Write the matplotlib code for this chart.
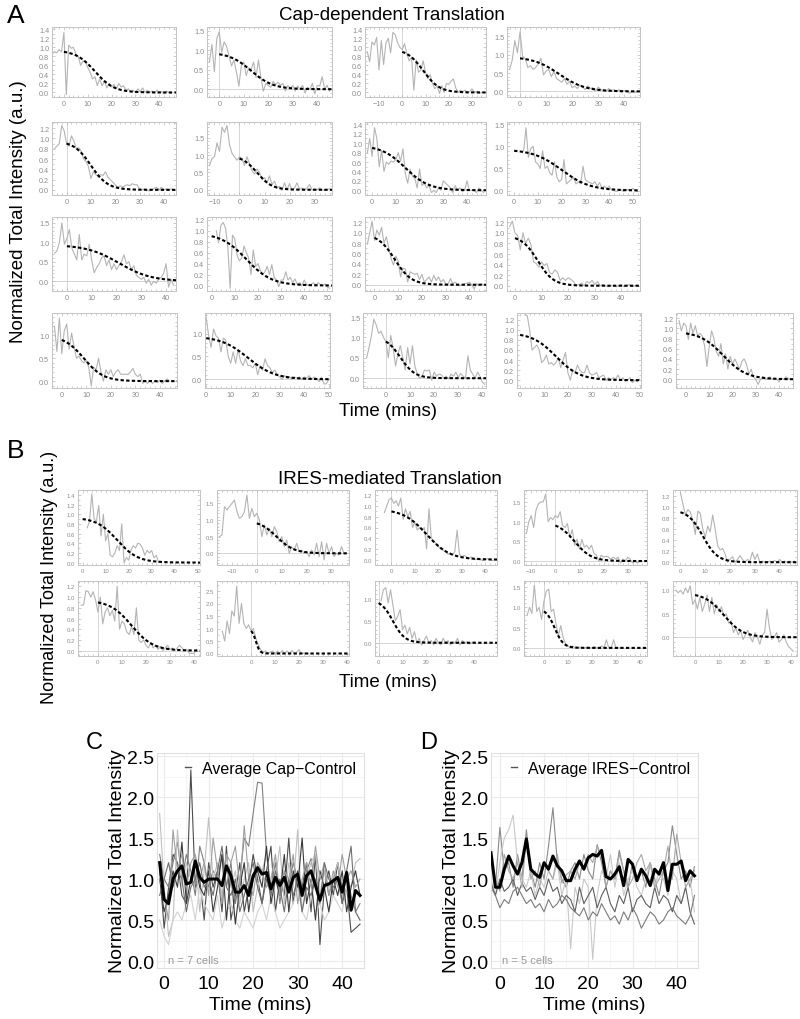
import numpy as np
import matplotlib
matplotlib.use("Agg")
import matplotlib.pyplot as plt
from matplotlib.lines import Line2D
from matplotlib.ticker import AutoMinorLocator, MultipleLocator

plt.rcParams['font.family'] = ['Liberation Sans', 'DejaVu Sans']

# ---------------- A: cap-dependent translation (one frame per minute) ----------------
# each cell: first time point, normalized intensity trace, fit (t50, width, start)
a11_t0 = -5
a11 = [0.85, 0.9, 0.88, 0.95, 0.9, 1.33, -0.05, 1.05, 0.98, 1.0,
       0.85, 0.8, 0.6, 0.7, 0.68, 0.55, 0.45, 0.3, 0.35, 0.15,
       0.3, 0.15, 0.25, 0.1, 0.2, 0.12, 0.18, 0.08, 0.2, 0.12,
       0.15, 0.05, 0.08, 0.02, 0.05, 0.0, 0.08, 0.02, 0.1, 0.0,
       0.05, 0.0, 0.03, -0.02, 0.05, 0.0, 0.02, -0.03, 0.03, 0.0, -0.02]
a11_fit = (13, 4.0, 0)

a12_t0 = -4
a12 = [0.7, 1.15, 0.45, 1.3, 1.48, 0.95, 1.22, 1.1, 0.85, 0.6,
       0.75, 0.45, 0.08, 0.6, 0.7, 0.35, 0.55, 0.5, 0.7, 0.3,
       0.75, 0.3, -0.05, 0.15, 0.1, 0.05, 0.2, 0.12, 0.18, 0.1,
       0.15, -0.05, 0.1, 0.02, 0.1, -0.05, 0.08, 0.0, 0.1, -0.1,
       0.05, 0.0, 0.15, -0.12, 0.1, 0.08, 0.32, 0.0, 0.1, -0.05]
a12_fit = (13, 4.5, 0)

a13_t0 = -15
a13 = [0.9, 0.68, 1.12, 1.05, 1.22, 0.5, 1.15, 0.62, 1.1, 1.2,
       0.88, 1.33, 1.28, 1.1, 1.0, 0.95, 1.08, 0.85, 0.7, 0.78,
       0.05, 0.72, 0.45, 0.5, 0.7, 0.45, 0.3, 0.4, 0.2, 0.08,
       0.15, -0.02, 0.15, 0.0, 0.2, 0.18, 0.25, 0.3, 0.1, 0.0,
       0.05, 0.02, 0.05, -0.02, 0.02, 0.08, 0.0, 0.02, -0.02, 0.0, 0.0]
a13_fit = (9, 3.5, 0)

a14_t0 = -4
a14 = [0.6, 0.85, 1.38, 1.05, 1.62, 0.95, 0.9, 0.65, 0.7, 0.6,
       0.65, 0.75, 0.9, 0.45, 0.55, 0.6, 0.4, 0.55, 0.35, 0.3,
       0.25, 0.35, 0.2, 0.28, 0.1, 0.15, 0.08, 0.18, 0.12, 0.05,
       0.15, 0.08, 0.1, 0.02, 0.12, 0.05, 0.02, 0.0, 0.08, 0.02,
       0.05, 0.0, 0.05, -0.02, 0.03, 0.0, -0.05, 0.02, -0.03, 0.0]
a14_fit = (15, 5.0, 0)

a21_t0 = -5
a21 = [0.8, 0.85, 0.9, 1.25, 1.15, 0.9, 0.85, 1.05, 0.95, 0.8,
       0.82, 0.75, 0.6, 0.55, 0.45, 0.22, 0.35, 0.3, 0.25, 0.3,
       0.28, 0.35, 0.25, 0.2, 0.15, 0.1, 0.05, 0.08, 0.05, 0.08,
       0.1, 0.08, 0.12, 0.1, 0.1, 0.02, 0.0, 0.02, 0.0, -0.02,
       0.0, 0.03, 0.05, 0.0, 0.05, 0.0, 0.02, 0.0, 0.02, 0.0]
a21_fit = (10, 3.5, 0)

a22_t0 = -12
a22 = [0.7, 0.9, 0.95, 1.35, 1.1, 1.8, 1.65, 1.85, 1.3, 1.05,
       0.95, 0.85, 0.95, 0.9, 0.7, 0.95, 0.75, 0.55, 0.45, 0.6,
       0.5, 0.3, 0.35, 0.2, 0.4, 0.15, 0.25, 0.05, 0.1, -0.02,
       0.2, 0.0, 0.18, -0.02, 0.05, 0.2, 0.02, 0.05, 0.0, 0.05,
       0.15, 0.0, 0.02, 0.0, 0.05, 0.0, -0.02, 0.0, 0.03]
a22_fit = (7, 3.0, 0)

a23_t0 = -2
a23 = [0.8, 1.1, 0.72, 1.33, 1.1, 0.5, 0.85, 0.4, 0.6, 0.55,
       0.62, 0.6, 0.65, 0.8, 0.62, 0.88, 0.35, 0.15, 0.45, 0.3,
       0.25, 0.05, 0.45, 0.1, 0.15, 0.05, 0.1, -0.05, 0.0, -0.05,
       0.05, 0.0, 0.2, 0.15, 0.1, 0.05, -0.05, 0.1, 0.0, 0.05,
       -0.03, 0.0, 0.2, 0.0, 0.0, 0.0, -0.05, 0.05, 0.0, -0.05]
a23_fit = (14, 5.0, 0)

a24_t0 = 4
a24 = [0.9, 1.42, 0.75, 0.95, 1.0, 0.65, 0.6, 0.5, 0.9, 0.5,
       0.55, 0.4, 0.35, 0.65, 0.3, 0.2, 0.25, 0.7, 0.15, 0.2,
       0.25, 0.3, 0.15, 0.2, 0.15, 0.55, 0.25, 0.2, 0.18, 0.15,
       0.2, 0.1, 0.18, 0.05, 0.1, 0.05, 0.1, 0.02, 0.0, -0.02,
       0.0, 0.02, -0.02, 0.0, 0.03, 0.0, 0.05, 0.0, -0.02]
a24_fit = (20, 6.0, 0)

a31_t0 = -5
a31 = [0.72, 0.78, 1.0, 1.5, 0.95, 1.1, 1.33, 0.85, 0.7, 0.55,
       1.2, 0.55, 0.7, 0.65, 0.95, 0.55, 0.22, 0.35, 0.45, 0.6,
       0.65, 0.4, 0.55, 0.3, 0.45, 0.3, 0.4, 0.5, 0.68, 0.45,
       0.5, 0.3, 0.4, 0.15, 0.1, 0.05, 0.1, -0.05, 0.05, -0.1,
       0.0, -0.05, 0.05, 0.1, 0.2, 0.45, -0.15, 0.05, -0.1]
a31_fit = (21, 6.5, 0)

a32_t0 = 2
a32 = [1.0, 0.78, 1.1, 1.15, 1.05, 0.7, -0.05, 0.92, 0.85, 0.55,
       0.45, 0.5, 0.72, 0.6, 0.5, 0.2, 0.65, 0.35, 0.4, 0.28,
       0.2, 0.25, 0.35, 0.2, 0.38, 0.15, 0.1, -0.02, 0.1, 0.1,
       0.25, 0.1, 0.15, 0.05, 0.12, 0.02, 0.05, 0.0, 0.1, 0.02,
       0.0, 0.02, 0.05, 0.0, 0.05, 0.02, 0.0, 0.03, -0.03, -0.05]
a32_fit = (15, 5.5, 0)

a33_t0 = -3
a33 = [0.78, 1.0, 1.22, 0.85, 1.05, 0.95, 1.1, 0.8, 0.92, 0.7,
       0.5, 0.38, 0.55, 0.45, 0.15, 0.32, 0.3, 0.05, 0.25, 0.22,
       0.2, 0.22, 0.1, 0.2, 0.05, 0.1, 0.15, 0.05, 0.18, 0.08,
       0.15, 0.05, 0.1, 0.02, 0.0, 0.12, 0.02, 0.05, 0.0, -0.02,
       0.0, 0.02, 0.03, 0.05, 0.0, -0.08, 0.02, 0.0, 0.02, 0.0]
a33_fit = (8.5, 3.5, 0)

a34_t0 = -2
a34 = [1.12, 1.22, 1.0, 0.95, 0.68, 1.0, 0.8, 0.9, 0.78, 0.45,
       0.42, 0.35, 0.45, 0.38, 0.42, 0.25, 0.22, 0.3, 0.25, 0.1,
       0.15, 0.1, 0.15, 0.12, 0.08, 0.0, 0.02, 0.05, 0.0, 0.08,
       0.05, 0.1, 0.02, 0.08, 0.0, 0.02, 0.0, -0.02, 0.0, 0.0,
       -0.02, 0.0, 0.02, -0.02, 0.0, 0.02, -0.02, 0.0, 0.0]
a34_fit = (8.5, 3.0, 0)

a41_t0 = -3
a41 = [1.2, 0.65, 1.38, 0.6, 1.1, 1.25, 0.7, 1.05, 0.75, 0.5,
       0.55, 0.45, 0.4, 0.45, 0.3, -0.1, 0.3, 0.25, 0.5, 0.2,
       0.0, 0.25, 0.15, 0.25, 0.1, 0.2, 0.25, 0.15, 0.15, 0.15,
       0.15, 0.2, 0.28, 0.15, 0.1, 0.15, -0.05, 0.0, -0.05, 0.02,
       -0.05, 0.0, -0.03, 0.02, -0.05, 0.0, 0.05, 0.0]
a41_fit = (9, 4.0, 0)

a42_t0 = 0
a42 = [1.35, 0.95, 0.7, 1.1, 0.95, 0.9, 0.6, 0.9, 0.85, 0.5,
       0.35, 0.6, 0.35, 0.65, 0.4, 0.3, 0.45, 0.3, 0.3, 0.25,
       0.35, 0.1, 0.3, 0.2, 0.45, 0.3, 0.25, 0.15, 0.2, 0.1,
       0.05, 0.0, 0.08, 0.02, 0.05, 0.0, 0.05, 0.03, 0.05, 0.0,
       0.05, 0.02, 0.08, 0.0, 0.05, 0.02, -0.05, 0.05, -0.1, -0.1, 0.0]
a42_fit = (17, 5.5, 0)

a43_t0 = -8
a43 = [0.5, 0.75, 1.05, 1.45, 1.3, 1.1, 1.15, 1.0, 0.9, 0.5,
       1.05, 0.75, 0.3, 0.6, 0.8, 0.5, 0.2, 0.75, 0.35, 0.8,
       0.3, 0.1, 0.0, 0.05, 0.2, 0.18, 0.2, -0.05, 0.15, 0.05,
       0.1, 0.08, 0.0, 0.05, -0.02, 0.1, 0.05, 0.15, 0.02, 0.12,
       0.05, 0.0, 0.55, 0.2, 0.1, 0.0, 0.15, 0.05, -0.1, -0.15]
a43_fit = (6, 3.0, 0)

a44_t0 = 2
a44 = [1.3, 1.28, 1.0, 0.6, 0.65, 0.7, 0.6, 0.35, 0.4, 0.5,
       0.32, 0.35, 0.3, 0.35, 0.45, 0.25, 0.4, 0.55, 0.15, 0.0,
       0.2, 0.15, 0.3, 0.2, 0.15, 0.15, 0.3, 0.15, 0.1, 0.12,
       0.15, 0.05, 0.08, 0.1, 0.0, 0.05, 0.0, 0.05, 0.02, 0.1,
       0.0, 0.05, -0.02, 0.0, 0.05, -0.05, 0.0, -0.03, 0.02]
a44_fit = (15, 5.0, 0)

a45_t0 = -3
a45 = [1.15, 0.95, 1.1, 1.05, 0.78, 1.1, 0.9, 1.05, 0.85, 0.9,
       0.85, 0.65, 0.25, 0.65, 0.95, 0.8, 0.55, 0.45, 0.7, 0.3,
       0.5, 0.2, 0.45, 0.3, 0.4, 0.3, 0.2, 0.35, 0.4, 0.3,
       0.1, 0.2, 0.05, 0.0, -0.1, 0.0, 0.05, 0.02, 0.0, 0.05,
       0.0, 0.02, 0.0, -0.05, 0.02, 0.0, 0.05, 0.02, 0.0]
a45_fit = (16, 5.0, 0)

# ---------------- B: IRES-mediated translation ----------------
b11_t0 = 2
b11 = [0.72, 0.85, 1.42, 0.9, 0.85, 1.18, 0.55, 1.0, 0.45, 0.6,
       0.15, 0.12, 0.2, 0.35, 0.25, 0.8, 0.0, 0.1, 0.05, 0.25,
       0.35, 0.3, 0.4, 0.38, 0.3, 0.15, 0.25, 0.2, 0.25, 0.1,
       0.15, 0.0]
b11_fit = (15, 4.5, 0)

b12_t0 = -15
b12 = [0.5, 0.55, 1.4, 1.3, 1.4, 1.5, 1.6, 1.25, 1.05, 1.1,
       1.25, 1.75, 1.05, 1.35, 1.1, 1.2, 1.0, 0.5, 0.85, 0.55,
       0.75, 0.5, 0.8, 0.65, 0.35, 0.5, 0.2, 0.4, 0.0, 0.2,
       0.1, 0.3, 0.05, 0.1, 0.0, 0.05, -0.1, 0.1, -0.05, 0.3,
       -0.1, 0.35, -0.2, 0.3, 0.0, 0.2, -0.1, 0.0, -0.05, 0.2, 0.0]
b12_fit = (8, 3.5, 0)

b13_t0 = -3
b13 = [0.88, 1.0, 1.12, 1.15, 1.05, 1.1, 1.0, 1.15, 0.75, 0.95,
       0.8, 0.9, 0.6, 0.7, 0.55, 0.6, 0.55, 0.6, 0.2, 0.95,
       0.4, 0.35, 0.3, 0.25, 0.2, 0.18, 0.15, 0.1, 0.12, 0.08,
       0.15, 0.55, 0.1, 0.05, 0.08, 0.05, 0.02, 0.05, 0.02, 0.0,
       0.03, 0.0, -0.02, 0.0, 0.02, 0.0, -0.02, 0.0]
b13_fit = (15, 5.0, 0)

b14_t0 = -12
b14 = [0.7, 1.0, 1.15, 0.85, 1.3, 1.45, 1.5, 1.5, 1.7, 1.0,
       1.1, 1.05, 1.15, 1.1, 1.25, 0.9, 0.85, 0.95, 0.6, 0.8,
       0.4, 0.55, 0.3, 0.55, 0.35, 0.4, 0.3, 0.4, 0.2, 0.15,
       0.0, 0.15, 0.1, 0.12, 0.1, 0.05, 0.1, 0.05, 0.1, -0.05,
       0.05, 0.0, 0.1, 0.05, -0.05, 0.0, -0.05, 0.0, 0.0]
b14_fit = (8, 3.5, 0)

b15_t0 = 0
b15 = [1.25, 1.05, 0.85, 0.95, 0.9, 0.75, 0.5, 0.92, 0.88, 0.6,
       0.45, 0.65, 0.55, 0.85, 0.6, 0.3, 0.22, 0.25, 0.15, 0.0,
       0.05, 0.1, 0.0, 0.05, 0.12, 0.05, 0.0, 0.05, 0.02, 0.18,
       0.05, 0.15, 0.0, 0.02, 0.0, 0.0, 0.02, 0.0, 0.03, 0.0,
       0.05, 0.0, 0.02, 0.0, 0.02, 0.0, 0.02]
b15_fit = (9, 3.0, 0)

b21_t0 = -7
b21 = [0.85, 0.85, 1.12, 1.1, 1.0, 1.1, 0.95, 0.72, 1.0, 0.5,
       0.72, 0.8, 0.65, 0.75, 0.55, 1.2, 0.4, 0.55, 0.5, 0.35,
       0.3, 0.45, 0.3, 0.8, 0.2, 0.15, 0.2, 0.1, 0.05, 0.15,
       0.05, 0.1, 0.02, 0.08, 0.0, 0.05, 0.1, 0.02, 0.05, 0.0,
       0.05, 0.1, 0.05, 0.0, 0.02, -0.05, -0.05, -0.05, 0.02]
b21_fit = (14, 4.5, 0)

b22_t0 = -12
b22 = [0.9, 0.5, 1.3, 0.8, 1.7, 1.5, 2.7, 1.2, 2.0, 1.2,
       1.0, 1.15, 0.9, 1.0, 0.6, 0.35, 0.15, 0.05, 0.1, 0.0,
       0.05, 0.1, 0.0, 0.1, 0.0, 0.12, 0.0, 0.1, 0.0, 0.12,
       0.0, 0.05, 0.15, 0.0, 0.02, 0.0, 0.0]
b22_fit = (2, 0.8, 0)

b23_t0 = 1
b23 = [0.95, 1.2, 1.25, 0.9, 1.2, 0.85, 0.5, 0.6, 0.75, 0.3,
       0.4, 0.2, 0.35, 0.1, 0.25, 0.0, 0.1, -0.05, 0.05, 0.15,
       0.0, 0.05, -0.05, 0.1, 0.0, -0.05, 0.1, 0.0, 0.05, -0.05,
       0.02, 0.0, 0.1, -0.05, 0.05, 0.0, 0.02, -0.03, 0.0, 0.02]
b23_fit = (6, 2.5, 0)

b24_t0 = -7
b24 = [0.8, 1.0, 0.85, 1.55, 0.9, 1.0, 0.7, 1.15, 1.4, 1.45,
       0.9, 0.95, 0.6, 0.3, 0.55, 0.25, 0.1, 0.05, 0.0, 0.05,
       0.0, 0.0, 0.02, 0.0, 0.0, 0.02, 0.0, 0.0, 0.03, 0.0,
       0.0, 0.05, 0.0, 0.2, 0.0, 0.0, 0.2, 0.0, 0.0, 0.0]
b24_fit = (4.5, 1.8, 0)

b25_t0 = -8
b25 = [1.0, 0.95, 1.0, 0.92, 1.05, 0.95, 1.1, 0.7, 0.8, 0.6,
       0.85, 0.55, 0.7, 0.9, 0.55, 0.85, 0.5, 0.7, 0.55, 0.65,
       0.45, 0.5, 0.3, 0.35, 0.1, 0.2, 0.05, 0.15, -0.05, 0.05,
       0.15, 0.0, -0.1, 0.1, 0.0, -0.15, 0.05, 0.1, 0.6, 0.2,
       -0.05, 0.0, 0.1, -0.1, -0.05, 0.05, -0.1, -0.2, -0.25, -0.3]
b25_fit = (12, 4.0, 0)

# ---------------- C: cap control cells (t = -1 .. 44) ----------------
cap_t0 = -1
cap_avg = [1.2, 0.75, 0.7, 1.0, 1.1, 1.16, 0.94, 0.96, 1.22, 1.02,
           0.96, 1.0, 1.0, 1.0, 0.92, 1.16, 1.04, 0.84, 0.84, 0.92,
           0.8, 1.04, 1.14, 1.06, 1.08, 0.88, 1.02, 0.92, 1.02, 0.84,
           1.02, 1.06, 0.8, 1.04, 1.1, 0.92, 0.74, 0.92, 0.94, 0.98,
           1.02, 0.84, 1.08, 0.62, 0.86, 0.8]
cap_c1 = [1.1, 0.4, 0.9, 1.3, 1.2, 0.8, 0.7, 2.33, 0.9, 1.0,
          0.5, 1.2, 0.9, 1.1, 0.6, 1.4, 0.5, 0.8, 1.2, 0.6,
          0.9, 1.3, 1.0, 0.7, 1.1, 1.4, 0.6, 1.0, 0.8, 1.5,
          0.7, 1.1, 0.9, 1.2, 0.6, 1.3, 0.2, 0.9, 1.1, 0.8,
          1.2, 0.7, 0.9, 0.35, 0.4, 0.45]
cap_c2 = [1.3, 1.0, 0.9, 1.2, 1.45, 1.0, 1.3, 1.1, 0.8, 1.4,
          1.2, 0.9, 1.1, 1.0, 1.3, 0.9, 1.2, 0.7, 1.0, 1.5,
          1.4, 1.8, 2.18, 2.17, 1.3, 0.9, 1.2, 0.7, 1.1, 0.9,
          1.2, 1.0, 0.8, 1.1, 1.25, 0.9, 1.0, 1.1, 0.8, 1.0,
          1.2, 0.9, 1.1, 0.8, 0.6, 0.7]
cap_c3 = [1.8, 0.9, 0.3, 0.5, 1.6, 0.9, 1.2, 1.0, 1.3, 0.6,
          1.1, 1.75, 1.0, 1.2, 0.8, 1.3, 0.9, 1.1, 0.7, 1.0,
          1.2, 0.6, 0.9, 1.1, 1.3, 0.8, 1.0, 1.4, 0.7, 1.2,
          0.9, 1.6, 0.6, 1.0, 1.2, 1.3, 0.8, 1.1, 0.9, 1.0,
          1.2, 0.8, 1.0, 0.9, 1.2, 1.25]
cap_c4 = [0.5, 0.3, 0.2, 0.5, 0.6, 0.5, 0.7, 0.8, 0.5, 0.9,
          0.7, 0.6, 0.5, 0.8, 0.4, 0.6, 0.7, 0.5, 0.4, 0.6,
          0.5, 0.4, 0.6, 0.7, 0.5, 0.8, 0.6, 0.4, 0.5, 0.6,
          0.7, 0.9, 0.6, 0.5, 0.8, 0.6, 0.7, 0.5, 0.6, 0.8,
          0.7, 0.6, 0.9, 0.7, 0.6, 0.5]
cap_c5 = [1.0, 0.6, 0.8, 1.1, 0.9, 1.45, 0.7, 1.0, 1.2, 0.9,
          0.8, 1.1, 0.6, 0.9, 1.3, 0.5, 1.1, 0.45, 0.9, 1.2,
          0.6, 1.0, 1.1, 0.9, 1.4, 0.7, 1.0, 0.8, 1.3, 0.6,
          1.1, 0.9, 1.5, 0.7, 1.0, 0.5, 1.1, 0.9, 0.6, 1.0,
          0.8, 1.1, 0.6, 0.9, 1.1, 0.8]
cap_c6 = [1.0, 0.8, 0.5, 1.6, 1.1, 1.3, 0.9, 1.2, 1.3, 1.0,
          1.2, 0.8, 1.5, 1.1, 0.7, 1.3, 1.2, 1.4, 0.9, 1.65,
          1.0, 0.8, 1.2, 1.1, 0.9, 1.0, 1.3, 0.8, 1.1, 1.0,
          1.3, 0.7, 1.0, 1.2, 0.9, 1.4, 1.0, 1.2, 0.8, 1.1,
          0.9, 1.3, 1.0, 1.1, 0.9, 1.0]
cap_c7 = [0.8, 1.0, 1.2, 0.9, 1.1, 1.0, 0.6, 0.9, 1.0, 1.2,
          0.9, 1.0, 0.8, 1.1, 1.4, 0.9, 0.8, 1.0, 0.6, 0.8,
          1.0, 1.2, 0.9, 0.7, 1.0, 0.8, 1.1, 0.9, 0.6, 1.0,
          0.8, 1.0, 0.6, 0.9, 0.8, 1.0, 0.7, 1.2, 1.0, 0.9,
          1.0, 0.7, 1.1, 1.4, 0.6, 0.5]

# ---------------- D: IRES control cells (t = -2 .. 44) ----------------
ires_t0 = -2
ires_avg = [1.32, 0.9, 0.9, 1.12, 1.28, 1.16, 1.06, 1.2, 1.49, 1.12,
            1.06, 1.02, 1.2, 1.12, 1.28, 1.16, 1.1, 0.98, 0.98, 1.12,
            1.22, 1.12, 1.26, 1.3, 1.28, 1.35, 1.03, 1.0, 1.06, 1.15,
            0.92, 1.24, 1.18, 0.98, 1.12, 1.04, 0.92, 1.12, 1.06, 1.2,
            0.86, 1.18, 1.18, 1.22, 0.98, 1.1, 1.04]
ires_d1 = [1.3, 0.9, 1.63, 1.1, 1.2, 0.9, 1.3, 1.0, 1.6, 1.1,
           0.9, 1.2, 1.0, 1.4, 1.87, 1.2, 1.0, 0.9, 1.1, 1.2,
           1.0, 1.3, 1.1, 1.0, 1.42, 1.2, 0.9, 1.1, 1.0, 1.35,
           1.1, 0.9, 1.2, 1.0, 1.1, 0.9, 1.2, 1.0, 0.8, 1.1,
           1.2, 1.65, 1.3, 1.0, 1.1, 0.9, 1.15]
ires_d2 = [1.0, 0.8, 1.2, 1.5, 1.6, 1.78, 1.2, 1.0, 0.9, 1.1,
           0.8, 1.0, 0.9, 1.1, 1.0, 1.2, 0.8, 1.0, 0.15, 0.9,
           0.7, 1.0, 0.9, 0.02, 0.8, 1.1, 1.0, 1.3, 0.9, 1.2,
           0.8, 1.0, 1.1, 0.9, 0.8, 1.0, 1.2, 0.9, 1.1, 1.0,
           0.8, 1.1, 1.0, 0.7, 0.9, 1.0, 0.6]
ires_d3 = [0.95, 0.8, 1.0, 0.85, 0.9, 1.0, 0.8, 0.95, 0.85, 0.9,
           0.75, 0.9, 0.8, 1.0, 0.85, 0.9, 0.7, 0.8, 0.75, 0.6,
           0.9, 0.7, 0.8, 0.9, 0.65, 0.8, 0.9, 0.7, 0.6, 0.8,
           0.7, 0.9, 0.6, 0.75, 0.8, 0.7, 0.65, 0.9, 0.7, 0.8,
           0.75, 0.6, 0.8, 0.7, 0.9, 0.6, 0.45]
ires_d4 = [0.9, 0.8, 0.65, 0.75, 0.7, 0.85, 0.9, 0.8, 0.7, 0.75,
           0.65, 0.7, 0.6, 0.75, 0.65, 0.7, 0.8, 0.75, 0.65, 0.6,
           0.55, 0.65, 0.5, 0.6, 0.55, 0.7, 0.6, 0.5, 0.55, 0.45,
           0.6, 0.5, 0.65, 0.55, 0.4, 0.5, 0.6, 0.55, 0.45, 0.5,
           0.6, 0.65, 0.55, 0.5, 0.45, 0.55, 0.8]
ires_d5 = [1.2, 1.0, 0.85, 1.3, 1.1, 1.0, 1.2, 0.9, 1.5, 1.0,
           1.1, 0.9, 1.2, 1.1, 1.0, 1.3, 0.95, 1.05, 1.1, 1.0,
           1.2, 1.15, 1.3, 1.2, 1.4, 1.3, 0.9, 1.1, 1.0, 1.3,
           1.1, 0.9, 1.0, 1.2, 1.3, 1.1, 1.2, 0.9, 1.0, 1.1,
           1.4, 1.0, 1.55, 1.2, 0.9, 1.0, 1.1]

# ---------------- layout (pixel boxes: left, top, right, bottom) ----------------
W, H = 800, 1020
fig = plt.figure(figsize=(W / 100, H / 100), dpi=100)


def place(l, t, r, b):
    return fig.add_axes([l / W, 1 - b / H, (r - l) / W, (b - t) / H])


def label(x, y, s, **kw):
    fig.text(x / W, 1 - y / H, s, ha='center', va='center', **kw)


Y12 = [0, 0.2, 0.4, 0.6, 0.8, 1.0, 1.2]
Y14 = [0, 0.2, 0.4, 0.6, 0.8, 1.0, 1.2, 1.4]
Y15 = [0, 0.5, 1.0, 1.5]
Y10 = [0, 0.5, 1.0]
X40 = [0, 10, 20, 30, 40]
X50 = [0, 10, 20, 30, 40, 50]
XN = [-10, 0, 10, 20, 30]

cols = [(52, 176), (207, 332), (365, 486), (507, 640)]
rows = [(28, 98), (123, 196), (218, 292)]
row4 = [(52, 177), (205, 330), (363, 486), (517, 641), (676, 793)]
r4 = (314, 389)

cap_panels = [
    (a11_t0, a11, a11_fit, cols[0], rows[0], (-5, 47), (-0.1, 1.45), X40, Y14, ''),
    (a12_t0, a12, a12_fit, cols[1], rows[0], (-5, 46), (-0.2, 1.6), X40, Y15, 'hv'),
    (a13_t0, a13, a13_fit, cols[2], rows[0], (-16, 36), (-0.1, 1.45), XN, Y14, 'v'),
    (a14_t0, a14, a14_fit, cols[3], rows[0], (-5, 46), (-0.15, 1.75), X40, Y15, 'hv'),
    (a21_t0, a21, a21_fit, cols[0], rows[1], (-6, 45), (-0.1, 1.32), X40, Y12, 'v'),
    (a22_t0, a22, a22_fit, cols[1], rows[1], (-13, 37), (-0.15, 1.95), XN, Y15, 'v'),
    (a23_t0, a23, a23_fit, cols[2], rows[1], (-3, 48), (-0.1, 1.45), X40, Y14, ''),
    (a24_t0, a24, a24_fit, cols[3], rows[1], (-3, 53), (-0.1, 1.55), X50, Y15, ''),
    (a31_t0, a31, a31_fit, cols[0], rows[2], (-6, 44), (-0.25, 1.65), X40, Y15, 'hv'),
    (a32_t0, a32, a32_fit, cols[1], rows[2], (-2, 52), (-0.1, 1.25), X50, Y12, ''),
    (a33_t0, a33, a33_fit, cols[2], rows[2], (-4, 47), (-0.12, 1.3), X40, Y12, 'h'),
    (a34_t0, a34, a34_fit, cols[3], rows[2], (-3, 47), (-0.1, 1.3), X40, Y12, ''),
    (a41_t0, a41, a41_fit, row4[0], r4, (-4, 47), (-0.15, 1.49), X40, Y10, ''),
    (a42_t0, a42, a42_fit, row4[1], r4, (-0.5, 50.5), (-0.19, 1.45), X50, Y10, 'h'),
    (a43_t0, a43, a43_fit, row4[2], r4, (-9.5, 41.5), (-0.24, 1.6), X40, Y15, 'hv'),
    (a44_t0, a44, a44_fit, row4[3], r4, (-1.3, 50.6), (-0.155, 1.335), X50, Y12, ''),
    (a45_t0, a45, a45_fit, row4[4], r4, (-4.3, 46), (-0.17, 1.3), X40, Y12, 'h'),
]

bcols = [(78, 200), (217, 349), (375, 497), (524, 647), (673, 797)]
brow1, brow2 = (491, 566), (582, 657)
ires_panels = [
    (b11_t0, b11, b11_fit, bcols[0], brow1, (-2, 51), (-0.05, 1.5), X50, Y14, ''),
    (b12_t0, b12, b12_fit, bcols[1], brow1, (-16, 37), (-0.35, 1.9), XN, Y15, 'hv'),
    (b13_t0, b13, b13_fit, bcols[2], brow1, (-7, 45), (-0.1, 1.3), X40, Y12, 'v'),
    (b14_t0, b14, b14_fit, bcols[3], brow1, (-13, 38), (-0.1, 1.8), XN, Y15, 'hv'),
    (b15_t0, b15, b15_fit, bcols[4], brow1, (-3, 47), (-0.05, 1.3), X40, Y12, ''),
    (b21_t0, b21, b21_fit, bcols[0], brow2, (-8.3, 42.5), (-0.1, 1.3), X40, Y12, 'hv'),
    (b22_t0, b22, b22_fit, bcols[1], brow2, (-14.2, 40.8), (-0.1, 2.9), X40,
     [0, 0.5, 1.0, 1.5, 2.0, 2.5], 'v'),
    (b23_t0, b23, b23_fit, bcols[2], brow2, (-1.5, 49.5), (-0.3, 1.4), X40, Y10, 'hv'),
    (b24_t0, b24, b24_fit, bcols[3], brow2, (-8.3, 42.9), (-0.2, 1.65), X40, Y15, 'hv'),
    (b25_t0, b25, b25_fit, bcols[4], brow2, (-9.2, 42.5), (-0.4, 1.2), X40, Y10, 'hv'),
]


def small_panel(t0, vals, fit, xr, yr, xlim, ylim, xticks, yticks, axes, fs):
    ax = place(xr[0], yr[0], xr[1], yr[1])
    t = t0 + np.arange(len(vals))
    if 'h' in axes:
        ax.axhline(0, color='#d6d6d6', lw=0.7, zorder=1)
    if 'v' in axes:
        ax.axvline(0, color='#d6d6d6', lw=0.7, zorder=1)
    ax.plot(t, vals, color='#b4b4b4', lw=0.8, zorder=2)
    t50, w, ts = fit
    tf = np.linspace(ts, xlim[1], 200)
    amp = 0.9 * (1 + np.exp((ts - t50) / w))
    ax.plot(tf, amp / (1 + np.exp((tf - t50) / w)), color='black', lw=1.5,
            ls=(0, (1.6, 1.1)), zorder=3)
    ax.set_xlim(xlim)
    ax.set_ylim(ylim)
    ax.set_xticks(xticks)
    ax.set_yticks(yticks)
    ax.set_yticklabels([f'{v:.1f}' for v in yticks])
    ax.xaxis.set_minor_locator(AutoMinorLocator(5))
    ax.yaxis.set_minor_locator(AutoMinorLocator(5 if len(yticks) < 5 else 2))
    ax.tick_params(which='both', direction='in', top=True, right=True,
                   color='#b8b8b8', width=0.5, labelsize=fs, labelcolor='#8c8c8c', pad=2)
    ax.tick_params(which='major', length=2.5)
    ax.tick_params(which='minor', length=1.2)
    for s in ax.spines.values():
        s.set_color('#c4c4c4')
        s.set_linewidth(0.7)
    return ax


for p in cap_panels:
    small_panel(*p, fs=5.2)
for p in ires_panels:
    small_panel(*p, fs=4.3)

# figure text
label(16, 16, 'A', fontsize=19)
label(392, 16, 'Cap-dependent Translation', fontsize=13.5)
label(19, 212, 'Normalized Total Intensity (a.u.)', fontsize=13.5, rotation=90)
label(388, 412, 'Time (mins)', fontsize=13.5)
label(16, 451, 'B', fontsize=19)
label(390, 479, 'IRES-mediated Translation', fontsize=13.5)
label(50, 577, 'Normalized Total Intensity (a.u.)', fontsize=13, rotation=90)
label(388, 683, 'Time (mins)', fontsize=13.5)
label(94, 743, 'C', fontsize=17)
label(429, 743, 'D', fontsize=17)


def control_panel(box, t0, cells, greys, avg, xlim, legend_text, n_text):
    ax = place(*box)
    t = t0 + np.arange(len(avg))
    for vals, g in zip(cells, greys):
        ax.plot(t, vals, color=g, lw=0.8, zorder=2)
    ax.plot(t, avg, color='black', lw=2.2, zorder=3)
    ax.set_xlim(xlim)
    ax.set_ylim(-0.085, 2.537)
    ax.set_xticks([0, 10, 20, 30, 40])
    ax.set_yticks([0, 0.5, 1.0, 1.5, 2.0, 2.5])
    ax.set_yticklabels(['0.0', '0.5', '1.0', '1.5', '2.0', '2.5'])
    ax.xaxis.set_minor_locator(MultipleLocator(5))
    ax.yaxis.set_minor_locator(MultipleLocator(0.25))
    ax.grid(which='major', color='#ebebeb', lw=0.8, zorder=0)
    ax.grid(which='minor', color='#f3f3f3', lw=0.5, zorder=0)
    ax.set_axisbelow(True)
    ax.tick_params(which='both', length=0, labelsize=14, pad=2)
    ax.tick_params(axis='x', pad=5)
    for s in ax.spines.values():
        s.set_color('#e0e0e0')
        s.set_linewidth(0.8)
    ax.set_xlabel('Time (mins)', fontsize=14, labelpad=3)
    ax.set_ylabel('Normalized Total Intensity', fontsize=14, labelpad=1)
    ax.legend(handles=[Line2D([], [], color='#555555', lw=1.0)], labels=[legend_text],
              loc='upper right', frameon=False, fontsize=11.5, handlelength=0.35,
              handletextpad=0.7, borderaxespad=0.1)
    ax.text(0.055, 0.035, n_text, transform=ax.transAxes, fontsize=8,
            color='#9a9a9a', va='center', ha='left')
    return ax


cap_greys = ['#4d4d4d', '#808080', '#c0c0c0', '#d2d2d2', '#3a3a3a', '#a0a0a0', '#6e6e6e']
control_panel((157, 754, 364, 969), cap_t0,
              [cap_c1, cap_c2, cap_c3, cap_c4, cap_c5, cap_c6, cap_c7],
              cap_greys, cap_avg, (-1.6, 44.9), 'Average Cap\u2212Control', 'n = 7 cells')

ires_greys = ['#8a8a8a', '#c8c8c8', '#5e5e5e', '#7a7a7a', '#a8a8a8']
control_panel((491, 754, 698, 969), ires_t0,
              [ires_d1, ires_d2, ires_d3, ires_d4, ires_d5],
              ires_greys, ires_avg, (-2.0, 44.8), 'Average IRES\u2212Control', 'n = 5 cells')

fig.savefig('out.png', dpi=100)
